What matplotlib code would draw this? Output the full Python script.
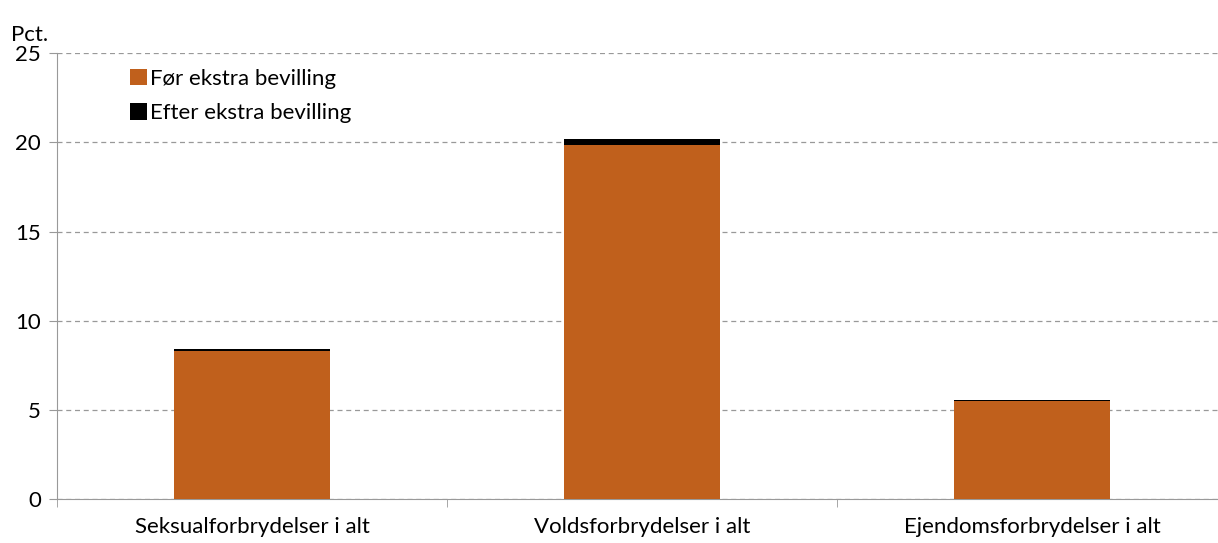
import matplotlib.pyplot as plt
import numpy as np

categories = ['Seksualforbrydelser i alt', 'Voldsforbrydelser i alt', 'Ejendomsforbrydelser i alt']
before = [8.30, 19.88, 5.50]
extra = [0.11, 0.30, 0.08]
yticks = [0, 5, 10, 15, 20, 25]

plt.rcParams['font.family'] = ['Lato', 'DejaVu Sans']

fig = plt.figure(figsize=(12.18, 5.43), dpi=100)
ax = fig.add_axes([0.0472, 0.081, 0.9606, 0.821])

x = np.arange(len(categories))
ax.bar(x, before, width=0.4, color='#c0601c', label='Før ekstra bevilling', zorder=3)
ax.bar(x, extra, width=0.4, bottom=before, color='#000000', label='Efter ekstra bevilling', zorder=3)

ax.set_xlim(-0.5, 2.5)
ax.set_ylim(0, 25)
ax.set_yticks(yticks)
ax.set_yticklabels([str(v) for v in yticks], fontsize=16)
ax.set_xticks(x)
ax.set_xticklabels(categories, fontsize=16)
ax.tick_params(axis='x', length=0, pad=13)
ax.set_xticks([-0.5, 0.5, 1.5, 2.5], minor=True)
ax.tick_params(axis='x', which='minor', length=6, color='#999999')
ax.tick_params(axis='y', length=6, color='#999999', pad=6)

ax.grid(axis='y', linestyle=(0, (4, 3)), color='#999999', linewidth=0.9, zorder=0)
for s in ['top', 'right']:
    ax.spines[s].set_visible(False)
for s in ['left', 'bottom']:
    ax.spines[s].set_color('#999999')

ax.text(-0.008, 1.018, 'Pct.', transform=ax.transAxes, fontsize=16, ha='right', va='bottom')

ax.legend(loc='upper left', bbox_to_anchor=(0.049, 1.0), frameon=False, fontsize=16,
          handlelength=0.75, handleheight=0.75, handletextpad=0.15, labelspacing=0.65,
          borderaxespad=0.3)

fig.savefig('out.png', dpi=100)
